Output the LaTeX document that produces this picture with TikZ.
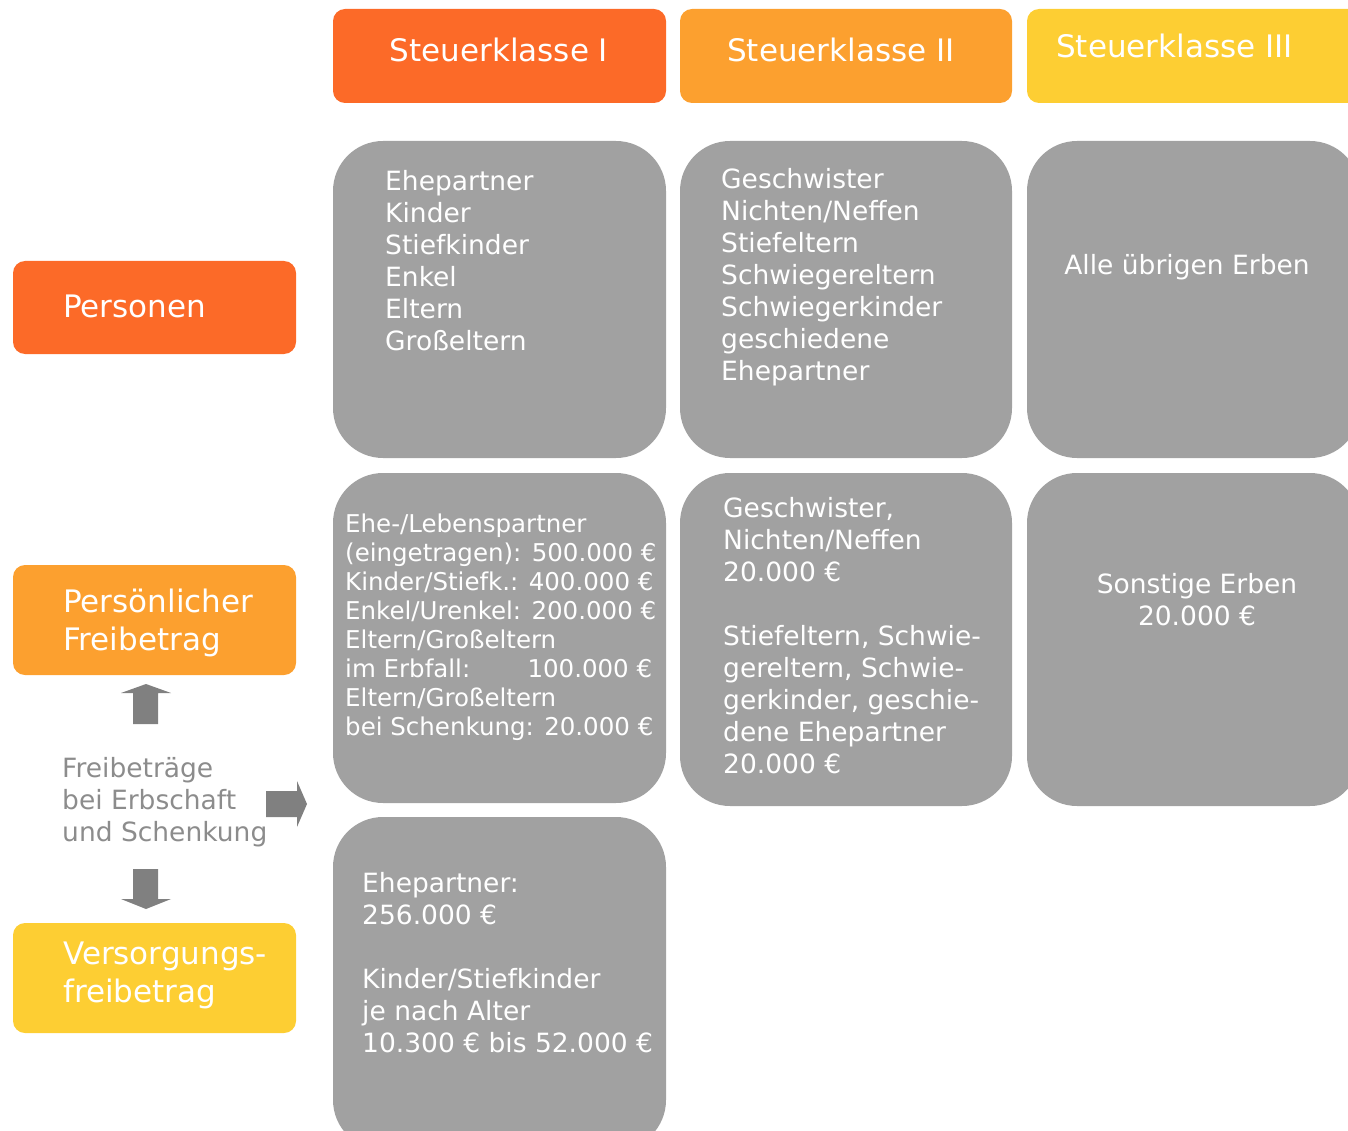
\documentclass[tikz,border=0pt]{standalone}
\usepackage{fontspec}
\setmainfont{DejaVu Sans}

\definecolor{klasseEins}{RGB}{252,106,40}
\definecolor{klasseZwei}{RGB}{252,160,47}
\definecolor{klasseDrei}{RGB}{253,206,51}
\definecolor{cellgray}{RGB}{161,161,161}
\definecolor{arrowgray}{RGB}{128,128,128}
\definecolor{notegray}{RGB}{140,140,140}

\newcommand\bigfont{\fontsize{31}{38}\selectfont}
\newcommand\cellfont{\fontsize{26.5}{32}\selectfont}
\newcommand\smallcellfont{\fontsize{24.5}{29}\selectfont}

\begin{document}
\begin{tikzpicture}[x=1pt,y=-1pt,
  tab/.style={fill=#1, rounded corners=12pt, inner sep=0pt, outer sep=0pt},
  cell/.style={fill=cellgray, rounded corners=50pt, inner sep=0pt, outer sep=0pt},
  bigtext/.style={text=white, font=\bigfont, inner sep=0pt, align=left},
  celltext/.style={text=white, font=\cellfont, inner sep=0pt, align=left},
  smalltext/.style={text=white, font=\smallcellfont, inner sep=0pt, align=left},
  notetext/.style={text=notegray, font=\cellfont, inner sep=0pt, align=left},
  blockarrow/.style={fill=arrowgray, draw=none}]

\useasboundingbox (0,0) rectangle (1348,1131);
\clip (0,0) rectangle (1348,1131);

% column headers
\node[tab=klasseEins, minimum width=333pt, minimum height=94pt] (hI) at (499.5,56) {};
\node[tab=klasseZwei, minimum width=332pt, minimum height=94pt] (hII) at (846,56) {};
\node[tab=klasseDrei, minimum width=333pt, minimum height=94pt] (hIII) at (1193.5,56) {};
\node[bigtext] (tI) at (499,50) {Steuerklasse I};
\node[bigtext] (tII) at (841,50) {Steuerklasse II};
\node[bigtext, anchor=west] (tIII) at (1056,46) {Steuerklasse III};

% row labels
\node[tab=klasseEins, minimum width=283pt, minimum height=93pt] (lP) at (154.5,307.5) {};
\node[tab=klasseZwei, minimum width=283pt, minimum height=110pt] (lF) at (154.5,620) {};
\node[tab=klasseDrei, minimum width=283pt, minimum height=110pt] (lV) at (154.5,978) {};
\node[bigtext, anchor=west] (tP) at (63,306) {Personen};
\node[bigtext, anchor=west] (tF) at (63,623) {Persönlicher\\Freibetrag};
\node[bigtext, anchor=west] (tV) at (63,975) {Versorgungs-\\freibetrag};

% row 1: persons
\node[cell, minimum width=333pt, minimum height=317pt] (c11) at (499.5,299.5) {};
\node[cell, minimum width=332pt, minimum height=317pt] (c12) at (846,299.5) {};
\node[cell, minimum width=333pt, minimum height=317pt] (c13) at (1193.5,299.5) {};
\node[celltext, anchor=west] (p1) at (385,261)
  {Ehepartner\\Kinder\\Stiefkinder\\Enkel\\Eltern\\Großeltern};
\node[celltext, anchor=west] (p2) at (721,277)
  {Geschwister\\Nichten/Neffen\\Stiefeltern\\Schwiegereltern\\Schwiegerkinder\\geschiedene\\Ehepartner};
\node[celltext] (p3) at (1187,267) {Alle übrigen Erben};

% row 2: personal allowances
\node[cell, minimum width=333pt, minimum height=330pt] (c21) at (499.5,638) {};
\node[cell, minimum width=332pt, minimum height=333pt] (c22) at (846,639.5) {};
\node[cell, minimum width=333pt, minimum height=333pt] (c23) at (1193.5,639.5) {};
\node[smalltext, anchor=west] (f1) at (345,627)
  {Ehe-/Lebenspartner\\
   (eingetragen): 500.000 €\\
   Kinder/Stiefk.: 400.000 €\\
   Enkel/Urenkel: 200.000 €\\
   Eltern/Großeltern\\
   \hbox to 307pt{im Erbfall:\hfill 100.000 €}\\
   Eltern/Großeltern\\
   bei Schenkung: 20.000 €};
\node[celltext, anchor=west] (f2) at (723,635.5)
  {Geschwister,\\Nichten/Neffen\\20.000 €\\[32pt]Stiefeltern, Schwie-\\gereltern, Schwie-\\gerkinder, geschie-\\dene Ehepartner\\20.000 €};
\node[celltext, align=center] (f3) at (1197,600) {Sonstige Erben\\20.000 €};

% row 3: pension allowance
\node[cell, minimum width=333pt, minimum height=333pt] (c31) at (499.5,983.5) {};
\node[celltext, anchor=west] (v1) at (362,963)
  {Ehepartner:\\256.000 €\\[32pt]Kinder/Stiefkinder\\je nach Alter\\10.300 € bis 52.000 €};

% side note with block arrows
\node[notetext, anchor=west] (note) at (62,802)
  {Freibeträge\\bei Erbschaft\\und Schenkung};
\path[blockarrow] (133,724) -- (133,693) -- (121,693) -- (146,684) -- (171,693)
  -- (158,693) -- (158,724) -- cycle;
\path[blockarrow] (133,869) -- (158,869) -- (158,899) -- (171,899) -- (146,909)
  -- (121,899) -- (133,899) -- cycle;
\path[blockarrow] (266,791) -- (297,791) -- (297,781) -- (307,804) -- (297,827)
  -- (297,817) -- (266,817) -- cycle;

\end{tikzpicture}
\end{document}
